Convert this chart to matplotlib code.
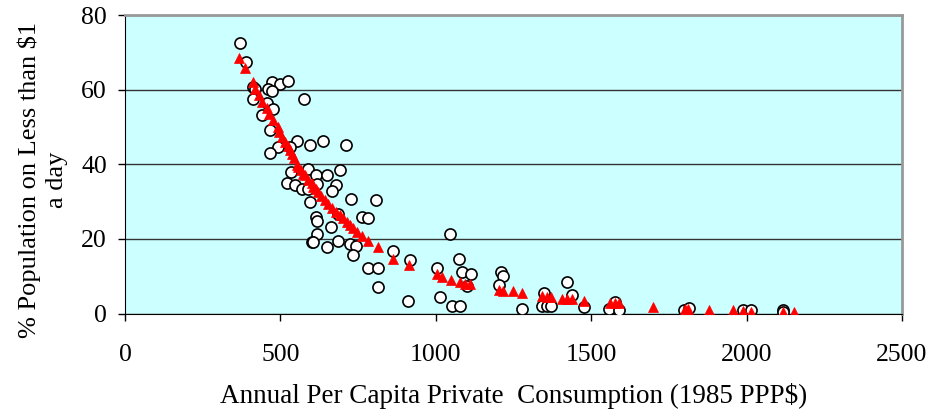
import matplotlib
matplotlib.use("Agg")
import matplotlib.pyplot as plt

plt.rcParams["font.family"] = ["Liberation Serif", "DejaVu Serif"]

# 实际观测值（圆圈）
obs_x = [370, 389, 472, 498, 523, 461, 474, 413, 418, 413, 577, 456, 475, 442,
         467, 493, 467, 552, 531, 595, 636, 711, 533, 590, 615, 651, 692, 520,
         547, 569, 617, 590, 679, 667, 595, 728, 808, 686, 764, 783, 615, 619,
         662, 619, 601, 605, 649, 686, 724, 743, 735, 783, 815, 813, 863, 917,
         912, 1003, 1014, 1046, 1076, 1083, 1112, 1099, 1051, 1078, 1209, 1217,
         1203, 1278, 1348, 1341, 1357, 1370, 1423, 1437, 1478, 1557, 1577, 1590,
         1800, 1815, 1989, 2014, 2116, 2116]
obs_y = [72.4, 67.3, 62.1, 61.5, 62.4, 60.3, 59.7, 60.6, 60.3, 57.6, 57.4, 56.3,
         54.8, 53.2, 49.1, 44.7, 43.1, 46.1, 44.7, 45.1, 46.1, 45.1, 38.0, 38.7,
         37.1, 37.1, 38.4, 35.0, 34.4, 33.5, 34.6, 33.5, 34.4, 32.9, 29.9, 30.7,
         30.4, 26.8, 25.9, 25.7, 25.9, 24.8, 23.2, 21.3, 19.2, 19.1, 17.7, 19.4,
         18.5, 18.1, 15.6, 12.2, 12.2, 7.0, 16.8, 14.3, 3.4, 12.1, 4.5, 21.2,
         14.6, 11.0, 10.5, 7.3, 2.0, 2.0, 11.2, 10.0, 7.6, 1.3, 5.4, 2.0, 2.0,
         2.0, 8.5, 4.9, 1.8, 1.3, 3.1, 0.9, 0.9, 1.5, 0.9, 0.9, 0.9, 0.5]

# 拟合值（红色三角）
fit_x = [368, 386, 411, 418, 431, 442, 456, 464, 475, 491, 495, 505, 515, 523,
         531, 537, 545, 552, 558, 566, 574, 579, 590, 601, 606, 615, 622, 631,
         643, 653, 665, 679, 692, 701, 713, 724, 735, 746, 762, 783, 813, 861,
         915, 1003, 1021, 1048, 1078, 1094, 1110, 1203, 1217, 1247, 1278, 1341,
         1357, 1370, 1407, 1421, 1437, 1478, 1560, 1577, 1590, 1698, 1802, 1812,
         1880, 1957, 1989, 2014, 2118, 2153]
fit_y = [68.4, 65.7, 62.1, 60.3, 58.5, 56.7, 55.0, 53.6, 51.8, 50.0, 48.7, 47.3,
         46.0, 44.9, 43.8, 42.7, 41.6, 39.8, 39.3, 38.4, 37.5, 37.1, 35.7, 34.9,
         33.9, 33.3, 32.6, 31.4, 30.4, 29.3, 28.2, 27.2, 26.4, 25.5, 24.6, 23.7,
         22.8, 21.8, 20.9, 19.5, 17.8, 14.7, 13.0, 10.5, 9.7, 8.9, 8.5, 8.0, 7.9,
         6.4, 6.0, 6.0, 5.5, 4.6, 4.5, 4.3, 3.8, 4.0, 4.0, 3.4, 2.8, 2.8, 2.7,
         1.8, 1.1, 1.3, 0.9, 0.9, 0.7, 0.4, 0.3, 0.3]

x_ticks = [0, 500, 1000, 1500, 2000, 2500]
y_ticks = [0, 20, 40, 60, 80]

fig = plt.figure(figsize=(9.33, 4.17), dpi=100)
ax = fig.add_axes([125 / 933, 1 - 313.5 / 417, (902 - 125) / 933, (313.5 - 15) / 417])
ax.set_facecolor("#CCFFFF")

ax.plot(obs_x, obs_y, linestyle="none", marker="o", markersize=8,
        markerfacecolor="white", markeredgecolor="black", markeredgewidth=1.2,
        zorder=3)
ax.plot(fit_x, fit_y, linestyle="none", marker="^", markersize=7.5,
        markerfacecolor="red", markeredgecolor="red", markeredgewidth=0.5,
        zorder=4)

ax.set_xlim(0, 2500)
ax.set_ylim(0, 80)
ax.set_xticks(x_ticks)
ax.set_yticks(y_ticks)
ax.yaxis.grid(True, color="#333333", linewidth=1.0)
ax.set_axisbelow(True)

for side in ["top", "right"]:
    ax.spines[side].set_color("#999999")
    ax.spines[side].set_linewidth(2)
ax.spines["left"].set_color("black")
ax.spines["bottom"].set_color("black")

ax.tick_params(axis="x", direction="out", length=5, width=1, pad=17, labelsize=18.5)
ax.tick_params(axis="y", direction="out", length=5, width=1, pad=8, labelsize=18.5)

ax.set_xlabel("Annual Per Capita Private  Consumption (1985 PPP$)",
              fontsize=19.5, labelpad=12)
# y轴标题两行居中
fig.text(43 / 933, 1 - 180 / 417, "% Population on Less than $1\na day",
         fontsize=19, rotation=90, ha="center", va="center",
         multialignment="center", linespacing=1.3)

fig.savefig("out.png", dpi=100)
